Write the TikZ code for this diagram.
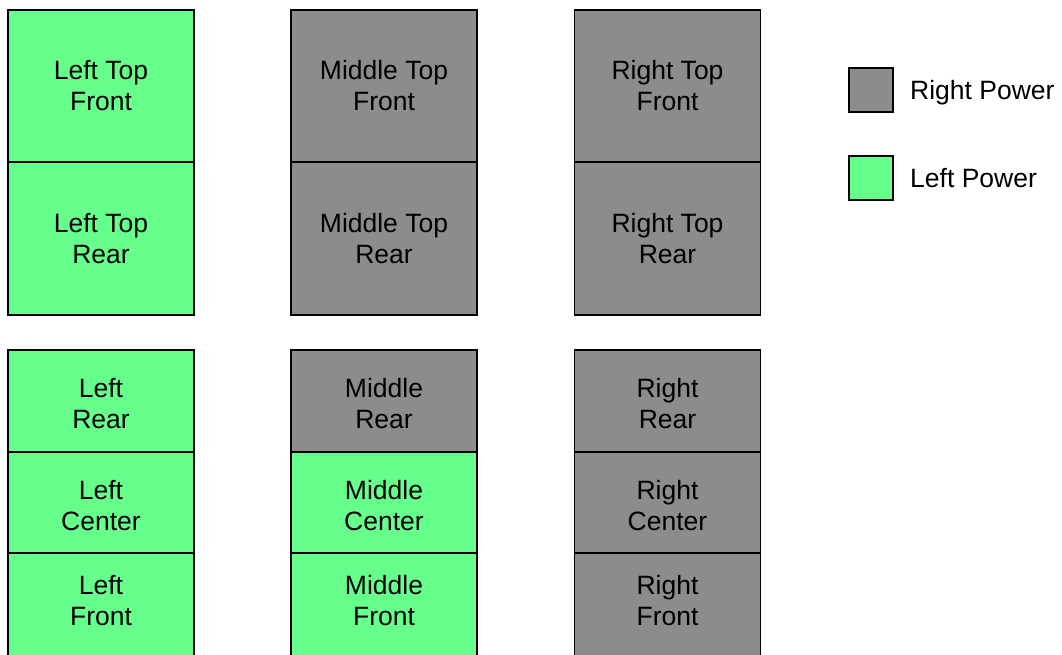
\documentclass[tikz,border=0pt]{standalone}
\usepackage{fontspec}
\setmainfont{Liberation Sans}
\definecolor{leftpow}{RGB}{102,255,140}
\definecolor{rightpow}{RGB}{140,140,140}
\tikzset{
  bay/.style={draw=black, line width=1.8pt, align=center, inner sep=0pt,
    minimum width=186pt, font=\fontsize{26.5}{31}\selectfont},
  lbay/.style={bay, fill=leftpow},
  rbay/.style={bay, fill=rightpow},
  lowtext/.style={text height=56pt},
  hightext/.style={text depth=9pt},
  key/.style={draw=black, line width=1.8pt, minimum size=44pt, inner sep=0pt},
  keytext/.style={anchor=base west, inner sep=0pt, font=\fontsize{26.5}{31}\selectfont}
}
\begin{document}
\begin{tikzpicture}[x=1pt,y=-1pt]
\useasboundingbox (0,0) rectangle (1062,654);
% top group
\node[lbay, minimum height=152pt] (ltf) at (101,86) {Left Top\\Front};
\node[lbay, minimum height=153pt] (ltr) at (101,238.5) {Left Top\\Rear};
\node[rbay, minimum height=152pt] (mtf) at (384,86) {Middle Top\\Front};
\node[rbay, minimum height=153pt] (mtr) at (384,238.5) {Middle Top\\Rear};
\node[rbay, minimum height=152pt] (rtf) at (667.5,86) {Right Top\\Front};
\node[rbay, minimum height=153pt] (rtr) at (667.5,238.5) {Right Top\\Rear};
% bottom group
\node[lbay, lowtext, minimum height=102pt] (lr) at (101,401) {Left\\Rear};
\node[lbay, lowtext, minimum height=101pt] (lc) at (101,502.5) {Left\\Center};
\node[lbay, hightext, minimum height=104pt] (lf) at (101,605) {Left\\Front};
\node[rbay, lowtext, minimum height=102pt] (mr) at (384,401) {Middle\\Rear};
\node[lbay, lowtext, minimum height=101pt] (mc) at (384,502.5) {Middle\\Center};
\node[lbay, hightext, minimum height=104pt] (mf) at (384,605) {Middle\\Front};
\node[rbay, lowtext, minimum height=102pt] (rr) at (667.5,401) {Right\\Rear};
\node[rbay, lowtext, minimum height=101pt] (rc) at (667.5,502.5) {Right\\Center};
\node[rbay, hightext, minimum height=104pt] (rf) at (667.5,605) {Right\\Front};
% legend
\node[key, fill=rightpow] (keyright) at (871,90) {};
\node[keytext] (keyrighttext) at (910,99.5) {Right Power};
\node[key, fill=leftpow] (keyleft) at (871,178) {};
\node[keytext] (keylefttext) at (910,187.5) {Left Power};
\end{tikzpicture}
\end{document}
